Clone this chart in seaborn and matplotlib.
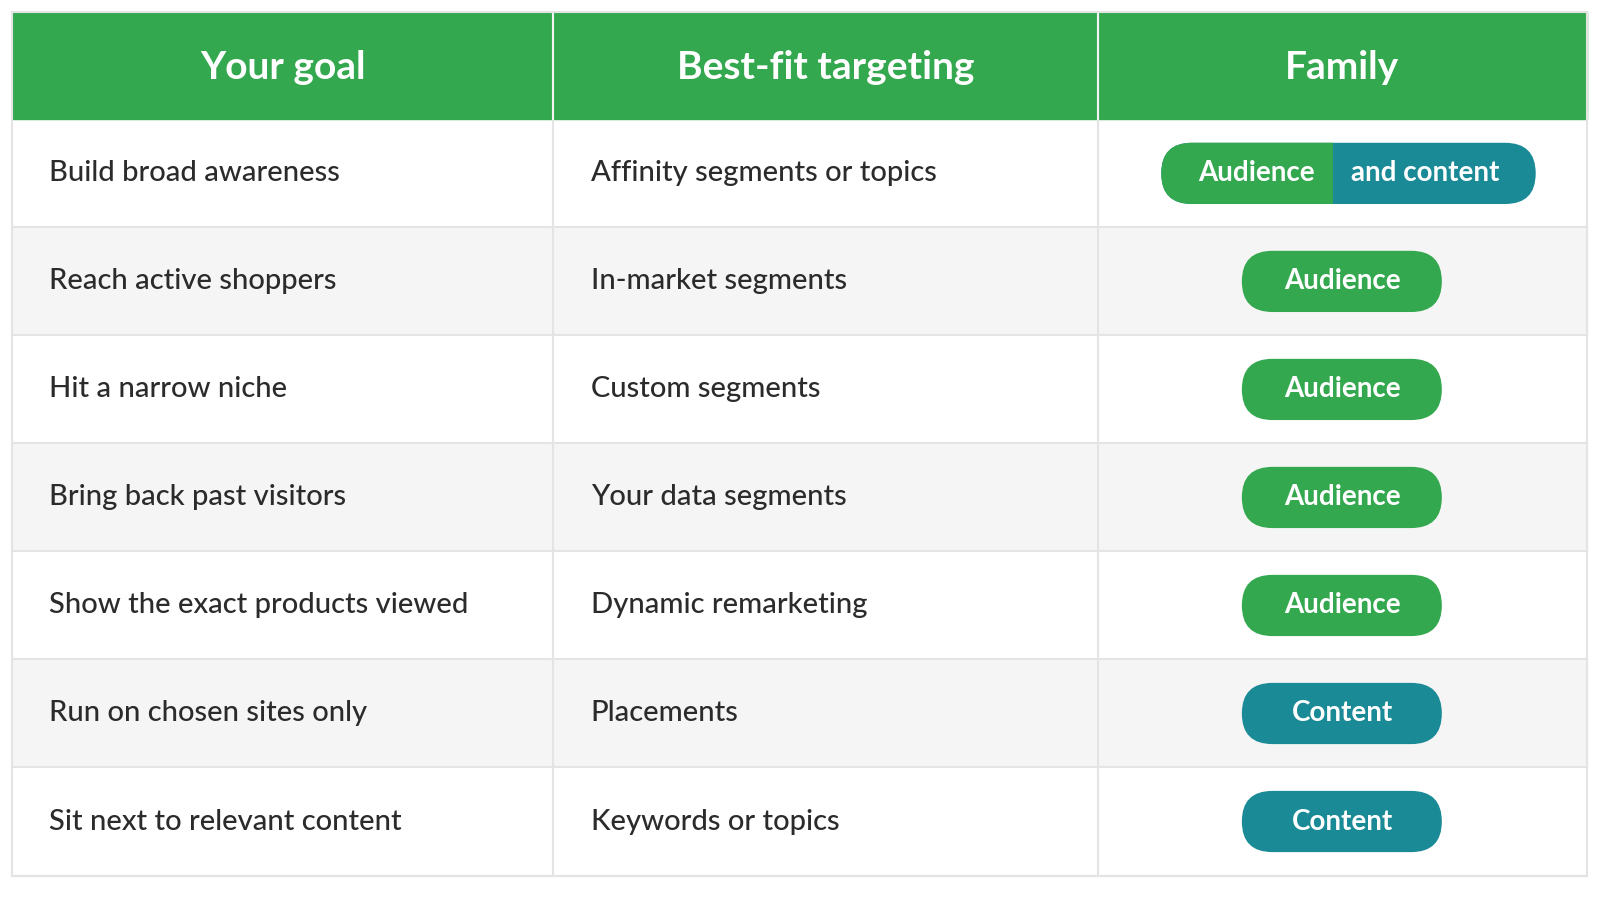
import matplotlib
matplotlib.use('Agg')
import matplotlib.pyplot as plt
import seaborn as sns
from matplotlib.patches import FancyBboxPatch, Rectangle

sns.set_theme(style='white')
plt.rcParams['font.family'] = ['Lato', 'DejaVu Sans']

# table content
headers = ['Your goal', 'Best-fit targeting', 'Family']
goals = ['Build broad awareness', 'Reach active shoppers', 'Hit a narrow niche',
         'Bring back past visitors', 'Show the exact products viewed',
         'Run on chosen sites only', 'Sit next to relevant content']
targeting = ['Affinity segments or topics', 'In-market segments', 'Custom segments',
             'Your data segments', 'Dynamic remarketing', 'Placements', 'Keywords or topics']
family = ['Both', 'Audience', 'Audience', 'Audience', 'Audience', 'Content', 'Content']

green = '#34a84f'
teal = '#1a8a96'
text_col = '#2b2b2b'

fig = plt.figure(figsize=(16, 9), dpi=100)
ax = fig.add_axes([0, 0, 1, 1])
W, H = 1568, 882
ax.set_xlim(0, W)
ax.set_ylim(H, 0)
ax.axis('off')

col_x = [12, 542, 1076, 1555]
head_top, head_bot = 12, 117
row_h = (858 - head_bot) / len(goals)

# header
ax.add_patch(Rectangle((col_x[0], head_top), col_x[-1] - col_x[0], head_bot - head_top,
                       color=green, zorder=1))
for i, h in enumerate(headers):
    ax.text((col_x[i] + col_x[i + 1]) / 2, (head_top + head_bot) / 2 + 2, h,
            color='white', fontsize=28, fontweight='bold', ha='center', va='center', zorder=3)

def pill(x0, x1, yc, color, clip=None):
    hh = 60
    p = FancyBboxPatch((x0, yc - hh / 2), x1 - x0, hh,
                       boxstyle='round,pad=0,rounding_size=30',
                       facecolor=color, edgecolor='none', zorder=3)
    ax.add_patch(p)
    if clip is not None:
        p.set_clip_path(clip)
    return p

for r in range(len(goals)):
    y0 = head_bot + r * row_h
    yc = y0 + row_h / 2
    bg = 'white' if r % 2 == 0 else '#f5f5f5'
    ax.add_patch(Rectangle((col_x[0], y0), col_x[-1] - col_x[0], row_h, color=bg, zorder=0))
    ax.plot([col_x[0], col_x[-1]], [y0 + row_h, y0 + row_h], color='#e4e4e4', lw=1.5, zorder=1)
    ax.text(48, yc, goals[r], color=text_col, fontsize=21, fontweight='medium', va='center')
    ax.text(579, yc, targeting[r], color=text_col, fontsize=21, fontweight='medium', va='center')
    cx = (col_x[2] + col_x[3]) / 2
    if family[r] == 'Both':
        pill(1138, 1505, yc, teal)
        clip = Rectangle((1130, yc - 40), 1306 - 1130, 80, transform=ax.transData)
        pill(1138, 1505, yc, green, clip=clip)
        ax.text(1231, yc, 'Audience', color='white', fontsize=20, fontweight='bold',
                ha='center', va='center', zorder=4)
        ax.text(1397, yc, 'and content', color='white', fontsize=20, fontweight='bold',
                ha='center', va='center', zorder=4)
    else:
        c = green if family[r] == 'Audience' else teal
        pill(1217, 1413, yc, c)
        ax.text(cx, yc, family[r], color='white', fontsize=20, fontweight='bold',
                ha='center', va='center', zorder=4)

# column dividers and outer border
for x in col_x[1:-1]:
    ax.plot([x, x], [head_top, 858], color='#e4e4e4', lw=1.5, zorder=2)
    ax.plot([x, x], [head_top, head_bot], color='#ffffff', lw=1.5, alpha=0.6, zorder=2)
ax.add_patch(Rectangle((col_x[0], head_top), col_x[-1] - col_x[0], 858 - head_top,
                       fill=False, edgecolor='#e4e4e4', lw=1.5, zorder=2))

fig.savefig('out.png', dpi=100, facecolor='white')
